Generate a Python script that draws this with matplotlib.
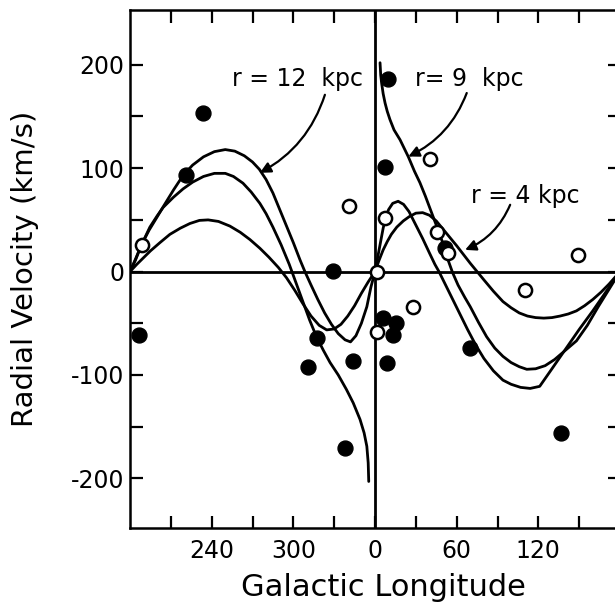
import numpy as np
import matplotlib.pyplot as plt

plt.rcParams['axes.unicode_minus'] = False

# longitude is plotted as l - 360 for l > 180, so the axis runs 180 .. 360/0 .. 180
# curves: (longitude, radial velocity km/s)
r12_left_l = [-180, -176, -171.5, -166, -160, -155, -148, -141, -134, -126, -118, -110, -103,
              -96, -90, -85, -80, -75, -70, -65, -60, -55, -51.5, -47, -42, -37, -32, -27,
              -22, -18, -14, -10, -6, -3, 0]
r12_left_v = [0, 11, 26, 40, 53, 64, 79, 93, 103, 111, 116, 118, 116.5,
              112, 106, 99, 89, 76, 60, 44, 28, 11, 0, -13, -27, -40, -51, -60,
              -66, -68, -62, -50, -34, -15, 0]

r9_left_l = [-180, -176, -171.5, -165.4, -160, -155.7, -148, -141, -134, -126, -118, -110,
             -104, -97, -91, -84.6, -80, -75, -69, -63, -58, -53, -48, -43, -38, -33, -27,
             -21, -16, -11, -8, -6, -5, -4.6]
r9_left_v = [0, 12, 26, 43, 54, 62, 72, 80, 86.5, 92, 95, 95,
             92, 85.5, 77, 66, 56, 43, 26, 7, -11, -29, -47, -63, -76, -88, -100,
             -114, -127, -143, -156, -169, -185, -203]

r4_left_l = [-180, -175, -170, -165, -158, -150.7, -143, -136, -129, -122.6, -115, -106.6,
             -99, -91.9, -84.6, -78, -71, -65, -59, -53, -47, -41, -35.5, -30, -25, -20,
             -15, -10, -5, 0]
r4_left_v = [0, 7, 13.5, 20, 28, 36, 42, 46.5, 49.5, 50, 48.5, 44,
             38, 31, 22.6, 14, 4, -6, -18, -31, -43, -52, -56.4, -55.5, -51, -43,
             -33, -21, -10, 0]

r12_right_l = [0, 2, 4, 6, 8, 10, 13, 17, 21, 25, 30, 35, 40, 44, 47, 50, 56, 62, 68, 74,
               80, 87, 94, 100, 107, 114, 121, 130, 140, 150, 160, 170, 180]
r12_right_v = [0, 14, 28, 42, 53, 60, 66, 68, 65, 58, 45, 32, 18, 7, 0, -8, -24, -40, -56, -71,
               -84, -96, -105, -109, -112, -113, -111, -94, -75, -56, -38, -19, 0]

r9_right_l = [3.7, 4.2, 4.9, 6, 7.4, 9, 11, 14, 18.4, 24.5, 29, 33, 37, 41, 45, 50, 54, 57,
              61, 66, 70, 76, 82, 88, 94, 100, 106, 111.5, 118, 125, 132, 140, 148, 156,
              164, 172, 180]
r9_right_v = [202, 190, 182, 172, 163, 155, 147, 137, 127.5, 111, 97, 86, 73, 59, 45, 27, 10, -1,
              -13, -25, -34, -49, -63, -74, -82, -88, -92, -94.5, -94, -91, -85, -76, -67, -52,
              -34, -17, 0]

r4_right_l = [0, 3, 6, 9, 12, 16, 20.8, 25, 30, 35, 40, 45, 50, 55, 60, 65, 70, 75, 80, 87,
              94, 100, 106, 112, 118, 124, 130, 136, 142, 148, 154, 160, 166, 172, 180]
r4_right_v = [0, 11, 21, 29, 36, 43, 49, 53, 56.5, 57, 54.5, 49, 41, 33, 25, 16.5, 8, 0, -8, -19,
              -29, -35, -40, -43, -44.5, -45, -44.5, -43, -41, -38, -33, -27, -20, -12, 0]

# observed clusters
filled_l = [-173.3, -139, -126.7, -31.1, -49, -42.9, -16, -22, 9.8, 7.4, 51.5, 5.6, 15.4,
            13.5, 9.1, 69.9, 136.5]
filled_v = [-61.3, 93.6, 153.3, 1, -92, -64.5, -86.4, -171, 186.2, 101.6, 22.6, -45, -50,
            -61.3, -88.7, -74.2, -156.5]
open_l = [-171.5, -18.9, 40.4, 7.4, 45.3, 53.7, 149.5, 1.2, 110.3, 27.7, 1.7]
open_v = [25.8, 63.6, 108.8, 51.7, 38.7, 18, 16.2, 0, -17.7, -33.9, -58.1]

major_x = [-120, -60, 0, 60, 120]
major_x_labels = ['240', '300', '0', '60', '120']
minor_x = [-150, -90, -30, 30, 90, 150]
major_y = [-200, -100, 0, 100, 200]
minor_y = [-150, -50, 50, 150]

fig = plt.figure(figsize=(6.15, 6.05), dpi=100)
ax = fig.add_axes([130 / 615, 1 - 528 / 605, 490 / 615, 518 / 605])

lw = 2.0
ax.axhline(0, color='black', lw=lw, zorder=1)
ax.axvline(0, color='black', lw=lw, zorder=1)

for l, v in [(r12_left_l, r12_left_v), (r9_left_l, r9_left_v), (r4_left_l, r4_left_v),
             (r12_right_l, r12_right_v), (r9_right_l, r9_right_v), (r4_right_l, r4_right_v)]:
    ax.plot(l, v, color='black', lw=lw, solid_capstyle='round', solid_joinstyle='round',
            zorder=2)

ax.scatter(filled_l, filled_v, s=115, color='black', zorder=3)
ax.scatter(open_l, open_v, s=90, facecolor='white', edgecolor='black', linewidth=1.8, zorder=4)

ax.set_xlim(-180, 180)
ax.set_ylim(-248, 253)

ax.set_xticks(major_x)
ax.set_xticklabels(major_x_labels)
ax.set_xticks(minor_x, minor=True)
ax.set_yticks(major_y)
ax.set_yticks(minor_y, minor=True)
ax.tick_params(which='both', direction='in', length=9, width=1.6, top=True, right=True,
               labelsize=17)
ax.tick_params(axis='x', which='major', pad=8)
ax.tick_params(axis='y', which='major', pad=4)
for s in ax.spines.values():
    s.set_linewidth(1.8)

ax.set_xlabel('Galactic Longitude', fontsize=22)
ax.set_ylabel('Radial Velocity (km/s)', fontsize=21)
ax.xaxis.set_label_coords(0.517, -0.087)
ax.yaxis.set_label_coords(-0.185, 0.5)

# labels and the curved arrows pointing at each curve
arrow = dict(arrowstyle='-|>', color='black', lw=1.6, mutation_scale=16,
             connectionstyle='arc3,rad=-0.2', shrinkA=0, shrinkB=0)
ax.text(-56.6, 186, 'r = 12  kpc', fontsize=17, ha='center', va='center')
ax.annotate('', xy=(-84.6, 95.5), xytext=(-36.8, 171), arrowprops=arrow)
ax.text(69, 186, 'r= 9  kpc', fontsize=17, ha='center', va='center')
ax.annotate('', xy=(24.5, 111.3), xytext=(67.4, 172.7), arrowprops=arrow)
ax.text(110.3, 73, 'r = 4 kpc', fontsize=17, ha='center', va='center')
ax.annotate('', xy=(66.2, 21), xytext=(99.3, 64.6), arrowprops=arrow)

fig.savefig('out.png', dpi=100)
